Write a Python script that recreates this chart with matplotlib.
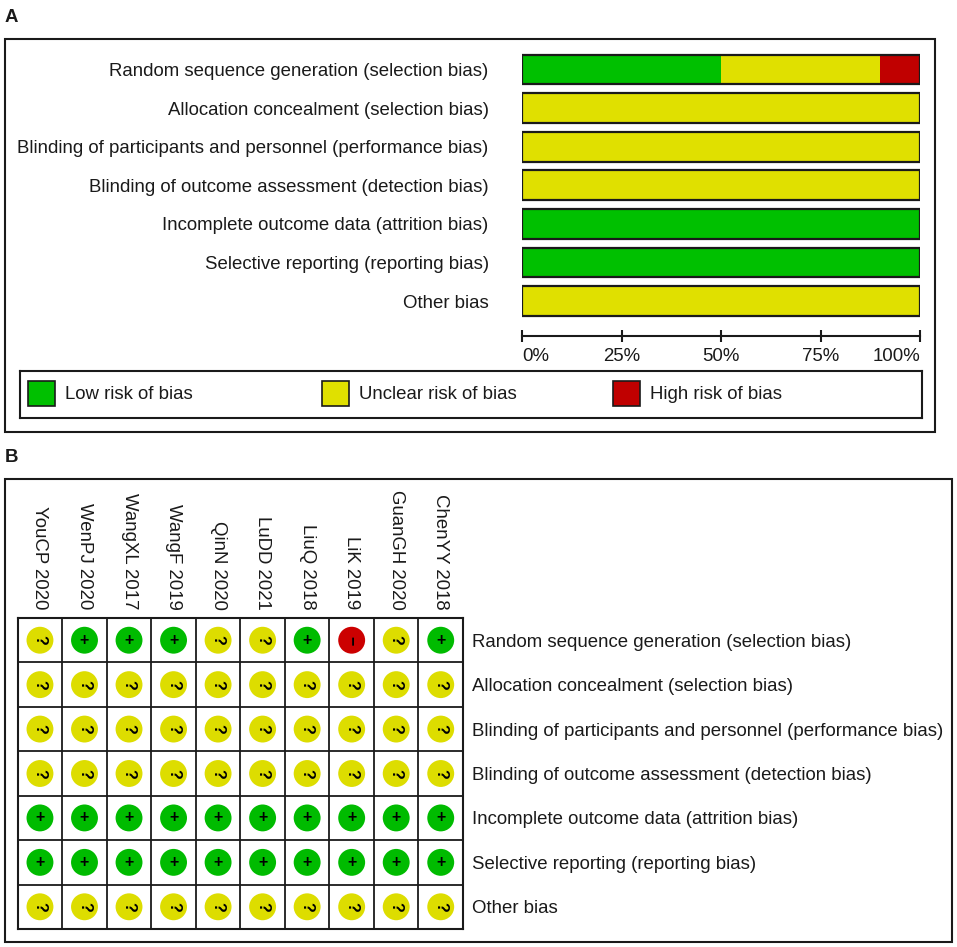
import matplotlib
matplotlib.use('Agg')
import matplotlib.pyplot as plt
from matplotlib.patches import Rectangle
import numpy as np

plt.rcParams['font.family'] = ['Liberation Sans', 'DejaVu Sans']
plt.rcParams['font.size'] = 13.4
plt.rcParams['text.color'] = '#1a1a1a'
plt.rcParams['xtick.color'] = '#1a1a1a'
plt.rcParams['ytick.color'] = '#1a1a1a'

# Data
domains = [
    'Random sequence generation (selection bias)',
    'Allocation concealment (selection bias)',
    'Blinding of participants and personnel (performance bias)',
    'Blinding of outcome assessment (detection bias)',
    'Incomplete outcome data (attrition bias)',
    'Selective reporting (reporting bias)',
    'Other bias',
]
studies = ['YouCP 2020', 'WenPJ 2020', 'WangXL 2017', 'WangF 2019', 'QinN 2020',
           'LuDD 2021', 'LiuQ 2018', 'LiK 2019', 'GuanGH 2020', 'ChenYY 2018']
# judgement per domain (rows) and study (columns): + low, ? unclear, - high
judgements = [
    ['?', '+', '+', '+', '?', '?', '+', '-', '?', '+'],
    ['?', '?', '?', '?', '?', '?', '?', '?', '?', '?'],
    ['?', '?', '?', '?', '?', '?', '?', '?', '?', '?'],
    ['?', '?', '?', '?', '?', '?', '?', '?', '?', '?'],
    ['+', '+', '+', '+', '+', '+', '+', '+', '+', '+'],
    ['+', '+', '+', '+', '+', '+', '+', '+', '+', '+'],
    ['?', '?', '?', '?', '?', '?', '?', '?', '?', '?'],
]
levels = ['+', '?', '-']
level_names = ['Low risk of bias', 'Unclear risk of bias', 'High risk of bias']
pct_ticks = [0, 25, 50, 75, 100]

bar_colors = {'+': '#00c000', '?': '#e0e000', '-': '#c00000'}
dot_colors = {'+': '#00bb00', '?': '#dddd00', '-': '#cc0000'}
ink = '#1a1a1a'

W, H = 957, 947


def rect(x0, y0, x1, y1):
    # pixel box (top-left origin) -> figure fraction
    return [x0 / W, 1 - y1 / H, (x1 - x0) / W, (y1 - y0) / H]


fig = plt.figure(figsize=(W / 100, H / 100), dpi=100)

# Panel frames and letters
for (x0, y0, x1, y1) in [(5, 39, 935, 432), (5, 479, 952, 942)]:
    fig.add_artist(Rectangle((x0 / W, 1 - y1 / H), (x1 - x0) / W, (y1 - y0) / H,
                             transform=fig.transFigure, fill=False, lw=1.5, ec=ink))
fig.text(5 / W, 1 - 17 / H, 'A', weight='bold', va='center', ha='left')
fig.text(5 / W, 1 - 457 / H, 'B', weight='bold', va='center', ha='left')

# ---- Panel A: risk of bias graph
axA = fig.add_axes(rect(522, 50.2, 920, 320.3))
n = len(studies)
rows = np.arange(len(domains))
left = np.zeros(len(domains))
for lev in levels:
    pct = np.array([100.0 * r.count(lev) / n for r in judgements])
    axA.barh(rows, pct, left=left, height=0.77, color=bar_colors[lev], edgecolor='none')
    left += pct
axA.barh(rows, left, height=0.77, fill=False, edgecolor=ink, linewidth=1.6)

axA.set_xlim(0, 100)
axA.set_ylim(len(domains) - 0.5, -0.5)
axA.set_yticks(rows, domains)
axA.tick_params(axis='y', length=0, pad=24)
for s in ['left', 'right', 'top']:
    axA.spines[s].set_visible(False)
axA.spines['bottom'].set_position(('outward', 11))
axA.spines['bottom'].set_linewidth(1.5)
axA.spines['bottom'].set_color(ink)
axA.set_xticks(pct_ticks, [f'{p}%' for p in pct_ticks])
axA.tick_params(axis='x', direction='inout', length=8, width=1.5, pad=5)
xl = axA.get_xticklabels()
xl[0].set_ha('left')
xl[-1].set_ha('right')
axA.patch.set_visible(False)

# Legend box
axL = fig.add_axes(rect(20, 371, 922, 418))
axL.set_xlim(20, 922)
axL.set_ylim(418, 371)
axL.set_xticks([])
axL.set_yticks([])
for s in axL.spines.values():
    s.set_linewidth(1.5)
    s.set_color(ink)
for lev, name, x0 in zip(levels, level_names, [28, 322, 613]):
    axL.add_patch(Rectangle((x0, 381), 27, 25, facecolor=bar_colors[lev], edgecolor=ink, lw=1.2))
    axL.text(x0 + 37, 394, name, va='center', ha='left')

# ---- Panel B: risk of bias summary
axB = fig.add_axes(rect(17.7, 618, 463, 929))
axB.set_xlim(-0.5, n - 0.5)
axB.set_ylim(len(domains) - 0.5, -0.5)
for i, r in enumerate(judgements):
    for j, v in enumerate(r):
        axB.scatter(j, i, s=375, color=dot_colors[v], edgecolors='none', zorder=3)
        sym = {'+': '+', '?': '?', '-': '\u2212'}[v]
        rot = 0 if v == '+' else -90
        axB.text(j, i, sym, ha='center', va='center', fontsize=11.5, weight='bold',
                 color='black', rotation=rot, zorder=4)
axB.set_xticks(np.arange(-0.5, n), minor=True)
axB.set_yticks(np.arange(-0.5, len(domains)), minor=True)
axB.grid(which='minor', color=ink, linewidth=1.3)
axB.tick_params(which='minor', length=0)
axB.xaxis.tick_top()
axB.set_xticks(range(n), studies, rotation=270)
axB.tick_params(axis='x', length=0, pad=6)
axB.yaxis.tick_right()
axB.set_yticks(rows, domains)
axB.tick_params(axis='y', length=0, pad=6.5)
for s in axB.spines.values():
    s.set_linewidth(1.5)
    s.set_color(ink)

fig.savefig('out.png', dpi=100)
